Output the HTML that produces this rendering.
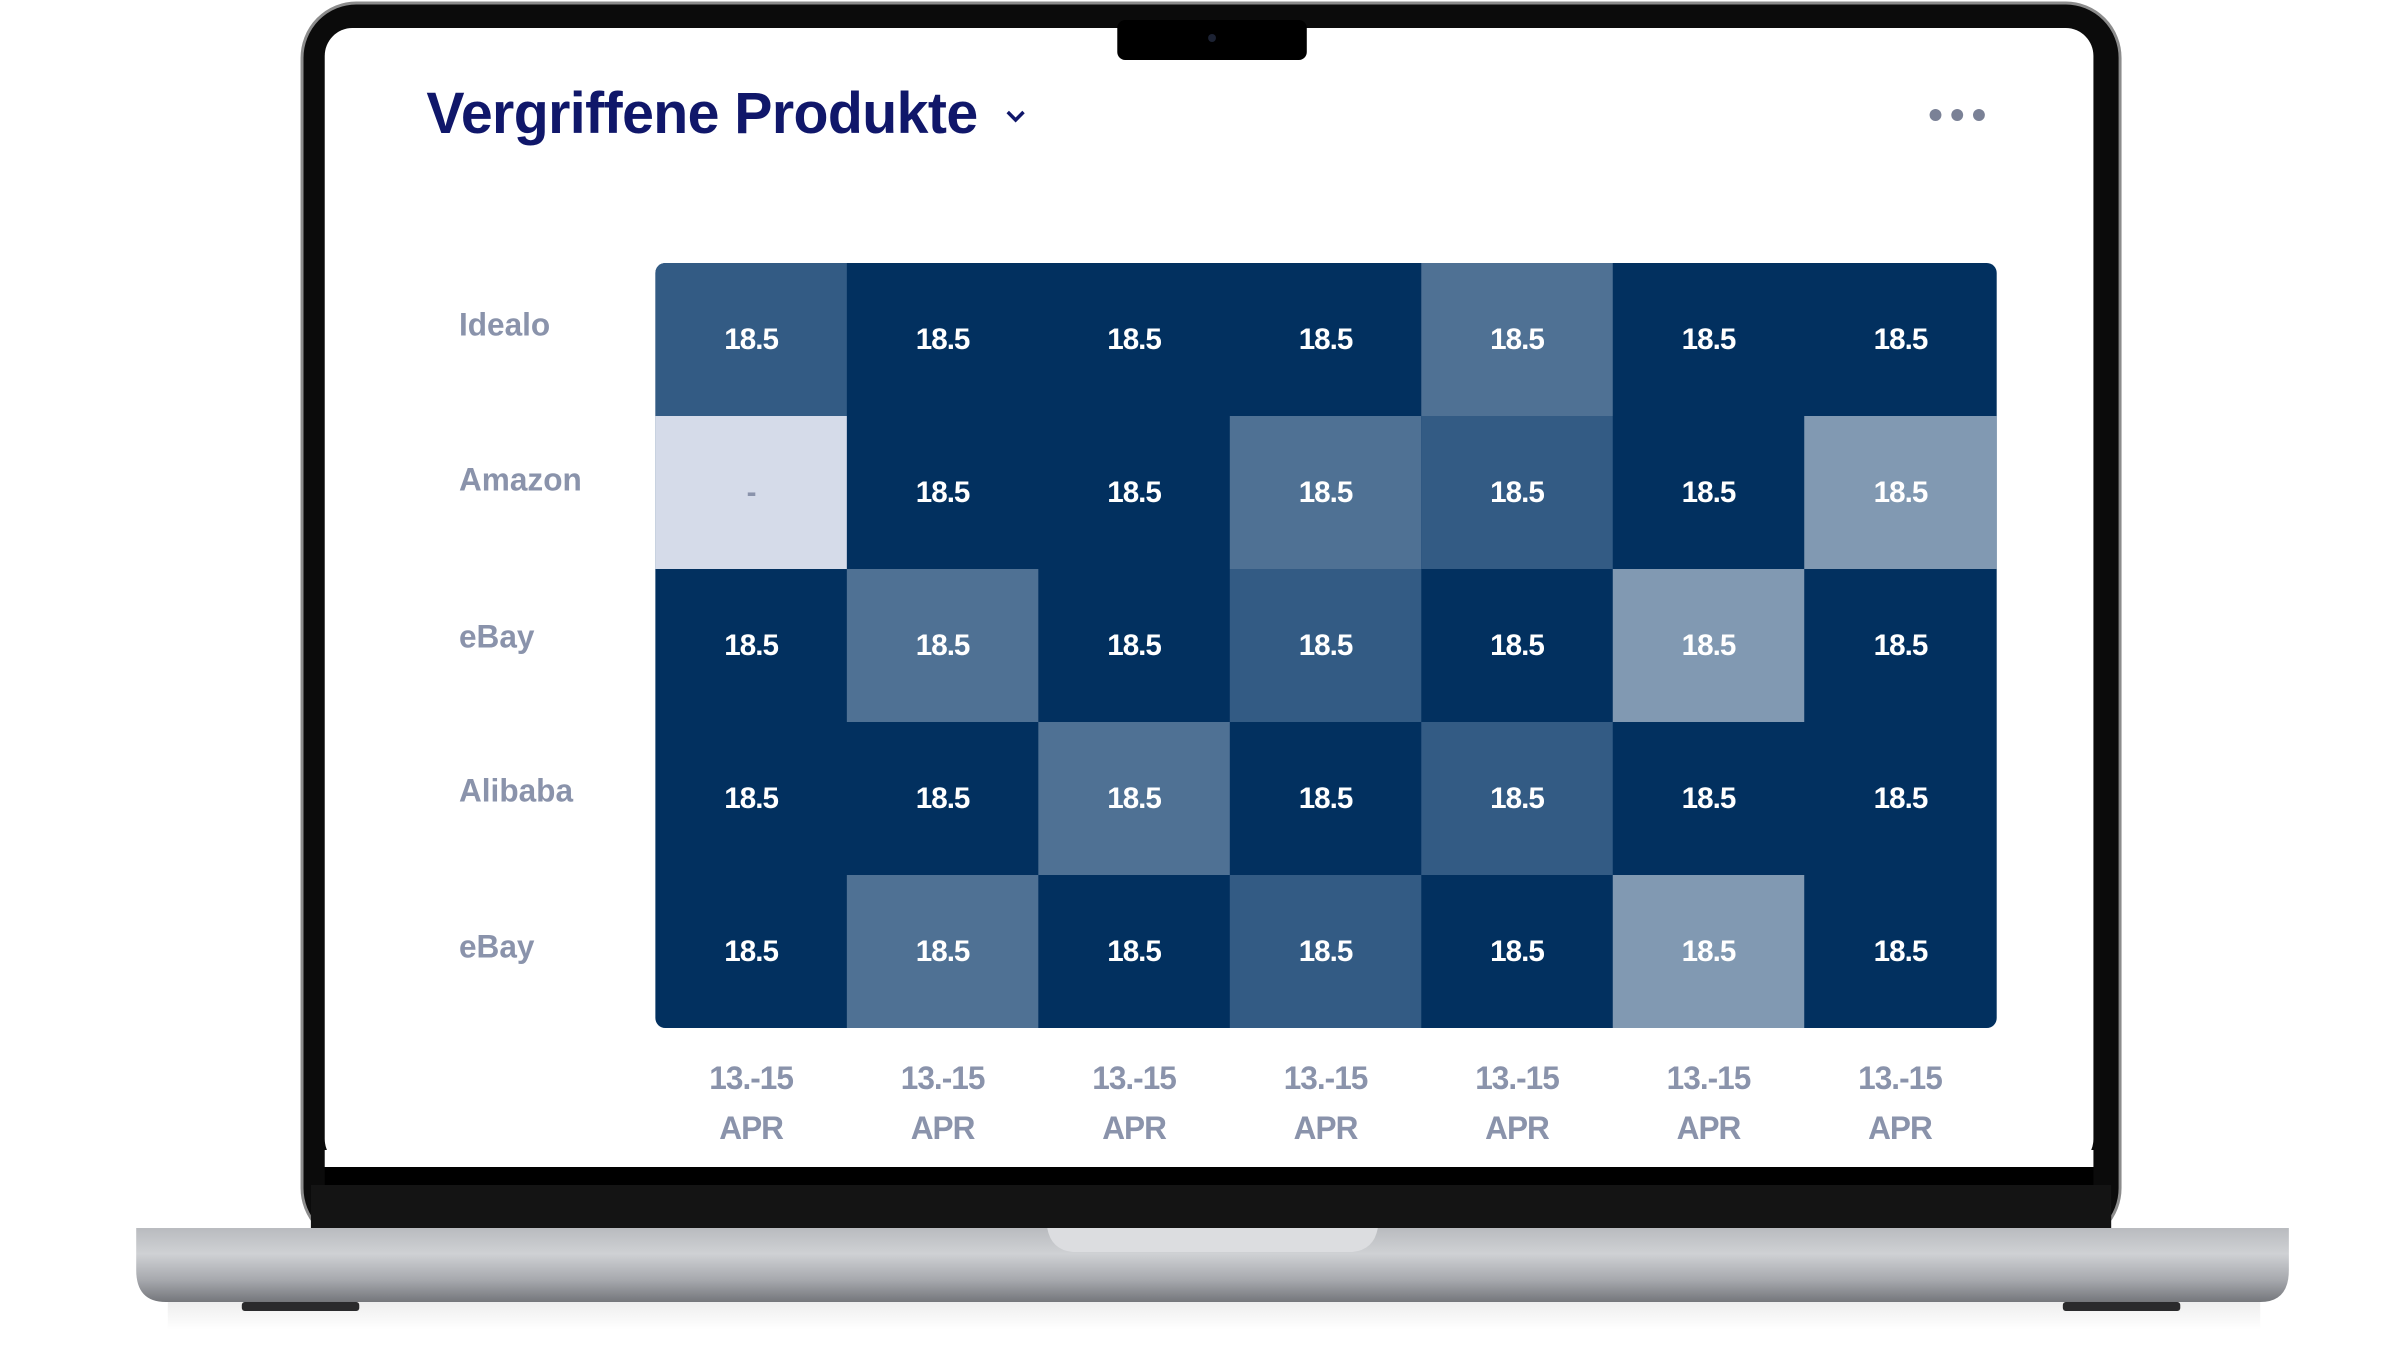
<!DOCTYPE html>
<html><head><meta charset="utf-8"><style>
html,body{margin:0;padding:0;background:#fff;}
body{width:2395px;height:1355px;position:relative;overflow:hidden;font-family:"Liberation Sans",sans-serif;}
#w{position:absolute;left:0;top:0;width:2395px;height:1355px;transform:scaleX(0.987);transform-origin:0 0;}
.abs{position:absolute;}
.cell{position:absolute;width:194px;height:153px;display:flex;align-items:center;justify-content:center;color:#fff;font-size:30px;font-weight:bold;letter-spacing:-1px;}
.rl{position:absolute;left:465px;color:#8a93ab;font-size:32px;font-weight:bold;transform:translateY(-50%);}
.xl{position:absolute;width:194px;text-align:center;color:#8a93ab;font-size:32px;font-weight:bold;line-height:50px;letter-spacing:-1px;}
</style></head><body><div id="w">
<svg class="abs" style="left:0;top:0" width="2395" height="1355">
<defs>
<linearGradient id="base" x1="0" y1="0" x2="0" y2="1">
<stop offset="0" stop-color="#b9bbbf"/><stop offset="0.35" stop-color="#cfd1d4"/><stop offset="0.7" stop-color="#a7a9ae"/><stop offset="1" stop-color="#74767b"/></linearGradient>
<linearGradient id="shadow" x1="0" y1="0" x2="0" y2="1"><stop offset="0" stop-color="#ececec"/><stop offset="1" stop-color="#ffffff"/></linearGradient>
</defs>
<rect x="170" y="1300" width="2120" height="30" fill="url(#shadow)"/>
<rect x="306" y="3" width="1842" height="1240" rx="55" fill="#0b0b0b" stroke="#8c8c8c" stroke-width="3"/>
<rect x="329" y="28" width="1792" height="1139" rx="28" fill="#fff"/>
<rect x="329" y="1150" width="1792" height="17" fill="#fff"/>
<rect x="329" y="1167" width="1792" height="18" fill="#000"/>
<rect x="315" y="1185" width="1824" height="44" fill="#141414"/>
<rect x="1132" y="20" width="192" height="40" rx="8" fill="#000"/>
<circle cx="1228" cy="38" r="4" fill="#1c2233"/>
<path d="M138 1228 H2319 V1270 Q2319 1302 2290 1302 H168 Q138 1302 138 1270 Z" fill="url(#base)"/>
<path d="M1061 1228 H1396 Q1392 1250 1370 1252 H1087 Q1065 1250 1061 1228Z" fill="#dcdde0"/>
<rect x="245" y="1302" width="119" height="9" rx="3" fill="#2a2a2c"/>
<rect x="2090" y="1302" width="119" height="9" rx="3" fill="#2a2a2c"/>
</svg>
<div class="abs" style="left:432px;top:80px;font-size:58px;font-weight:bold;color:#10176a;letter-spacing:-0.6px;">Vergriffene Produkte</div>
<svg class="abs" style="left:1018px;top:108px" width="22" height="16"><polyline points="3,4 11,12 19,4" fill="none" stroke="#10176a" stroke-width="3.5"/></svg>
<svg class="abs" style="left:1950px;top:104px" width="66" height="22"><circle cx="11" cy="11" r="6" fill="#7a8196"/><circle cx="33" cy="11" r="6" fill="#7a8196"/><circle cx="55" cy="11" r="6" fill="#7a8196"/></svg>
<div class="abs" style="left:664px;top:263px;width:1359px;height:765px;border-radius:10px;overflow:hidden;background:#02305f;">
<div class="cell" style="left:0;top:0;background:#335b84">18.5</div>
<div class="cell" style="left:194px;top:0">18.5</div>
<div class="cell" style="left:388px;top:0">18.5</div>
<div class="cell" style="left:582px;top:0">18.5</div>
<div class="cell" style="left:776px;top:0;background:#4f7194">18.5</div>
<div class="cell" style="left:970px;top:0">18.5</div>
<div class="cell" style="left:1164px;top:0;width:195px">18.5</div>

<div class="cell" style="left:0;top:153px;background:#d5dbe9;color:#8a93ab">-</div>
<div class="cell" style="left:194px;top:153px">18.5</div>
<div class="cell" style="left:388px;top:153px">18.5</div>
<div class="cell" style="left:582px;top:153px;background:#4f7194">18.5</div>
<div class="cell" style="left:776px;top:153px;background:#335b84">18.5</div>
<div class="cell" style="left:970px;top:153px">18.5</div>
<div class="cell" style="left:1164px;top:153px;width:195px;background:#8199b2">18.5</div>

<div class="cell" style="left:0;top:306px">18.5</div>
<div class="cell" style="left:194px;top:306px;background:#4f7194">18.5</div>
<div class="cell" style="left:388px;top:306px">18.5</div>
<div class="cell" style="left:582px;top:306px;background:#335b84">18.5</div>
<div class="cell" style="left:776px;top:306px">18.5</div>
<div class="cell" style="left:970px;top:306px;background:#8199b2">18.5</div>
<div class="cell" style="left:1164px;top:306px;width:195px">18.5</div>

<div class="cell" style="left:0;top:459px">18.5</div>
<div class="cell" style="left:194px;top:459px">18.5</div>
<div class="cell" style="left:388px;top:459px;background:#4f7194">18.5</div>
<div class="cell" style="left:582px;top:459px">18.5</div>
<div class="cell" style="left:776px;top:459px;background:#335b84">18.5</div>
<div class="cell" style="left:970px;top:459px">18.5</div>
<div class="cell" style="left:1164px;top:459px;width:195px">18.5</div>

<div class="cell" style="left:0;top:612px">18.5</div>
<div class="cell" style="left:194px;top:612px;background:#4f7194">18.5</div>
<div class="cell" style="left:388px;top:612px">18.5</div>
<div class="cell" style="left:582px;top:612px;background:#335b84">18.5</div>
<div class="cell" style="left:776px;top:612px">18.5</div>
<div class="cell" style="left:970px;top:612px;background:#8199b2">18.5</div>
<div class="cell" style="left:1164px;top:612px;width:195px">18.5</div>
</div>
<div class="rl" style="top:325px">Idealo</div>
<div class="rl" style="top:480px">Amazon</div>
<div class="rl" style="top:637px">eBay</div>
<div class="rl" style="top:791px">Alibaba</div>
<div class="rl" style="top:947px">eBay</div>
<div class="xl" style="left:664px;top:1053px">13.-15<br>APR</div>
<div class="xl" style="left:858px;top:1053px">13.-15<br>APR</div>
<div class="xl" style="left:1052px;top:1053px">13.-15<br>APR</div>
<div class="xl" style="left:1246px;top:1053px">13.-15<br>APR</div>
<div class="xl" style="left:1440px;top:1053px">13.-15<br>APR</div>
<div class="xl" style="left:1634px;top:1053px">13.-15<br>APR</div>
<div class="xl" style="left:1828px;top:1053px">13.-15<br>APR</div>
</div></body></html>
